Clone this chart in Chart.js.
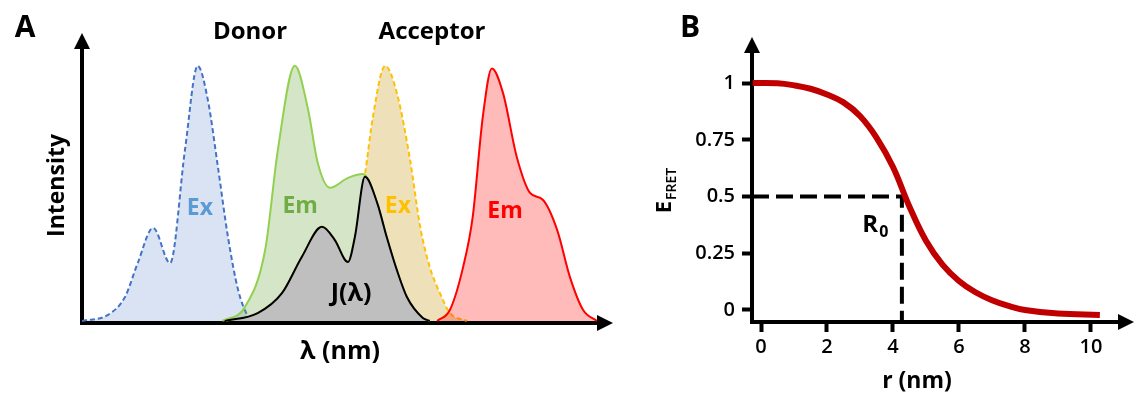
<!DOCTYPE html>
<html>
<head>
<meta charset="utf-8">
<script src="https://cdn.jsdelivr.net/npm/chart.js@4.4.1/dist/chart.umd.min.js"></script>
<style>
    body { margin: 0; background: #fff; width: 1134px; height: 394px; overflow: hidden; position: relative; }
    .panel { position: absolute; top: 0; height: 394px; }
    #panelA { left: 0; width: 630px; }
    #panelB { left: 640px; width: 494px; }
</style>
</head>
<body>
<div class="panel" id="panelA"><canvas id="spectraChart"></canvas></div>
<div class="panel" id="panelB"><canvas id="fretChart"></canvas></div>
<script>
// ---------- panel A: spectra (wavelength in arbitrary units, normalised intensity) ----------
const donorExX = [0, 4.9, 8.1, 10.5, 13.4, 16.6, 19.4, 21.8, 23.7, 25.6, 27.5, 29.4, 31.3, 32.0];
const donorExY = [0, 0.024, 0.094, 0.227, 0.365, 0.227, 0.671, 1.0, 0.867, 0.604, 0.329, 0.122, 0.016, 0];

const donorEmX = [26.4, 30.7, 34.5, 36.9, 40.1, 42.6, 44.4, 46.7, 50.1, 52.9, 55.6, 57.4, 59.3, 61.2, 64.2, 65.5];
const donorEmY = [0, 0.055, 0.278, 0.671, 1.0, 0.827, 0.620, 0.522, 0.561, 0.576, 0.463, 0.329, 0.2, 0.094, 0.012, 0];

const acceptorExX = [26.9, 33.1, 37.7, 41.4, 45.2, 47.6, 50.1, 51.4, 53.3, 54.8, 57.1, 59.3, 61.8, 63.7, 65.5, 67.4, 69.3, 72.5];
const acceptorExY = [0, 0.031, 0.11, 0.251, 0.369, 0.318, 0.231, 0.329, 0.573, 0.8, 1.0, 0.894, 0.631, 0.369, 0.212, 0.11, 0.031, 0];

const overlapX = [26.9, 33.1, 37.7, 41.4, 45.2, 47.6, 50.1, 51.4, 53.3, 55.6, 57.4, 59.3, 61.2, 64.2, 65.5];
const overlapY = [0, 0.031, 0.11, 0.251, 0.369, 0.318, 0.231, 0.329, 0.565, 0.463, 0.329, 0.2, 0.094, 0.012, 0];

const acceptorEmX = [66.9, 69.3, 71.8, 73.6, 75.5, 77.2, 79.3, 81.9, 84.4, 86.8, 89.5, 91.9, 94.4, 97.0];
const acceptorEmY = [0, 0.043, 0.212, 0.408, 0.8, 0.99, 0.894, 0.643, 0.502, 0.475, 0.357, 0.173, 0.043, 0];

// ---------- panel B: FRET efficiency vs distance ----------
const distance = [-0.25, 0.5, 1, 1.5, 2, 2.5, 3, 3.5, 4, 4.5, 5, 5.5, 6, 6.5, 7, 7.5, 8, 9, 10.27];
const efficiency = [1.0, 0.999, 0.99, 0.975, 0.95, 0.915, 0.855, 0.76, 0.63, 0.455, 0.305, 0.2, 0.128, 0.078, 0.043, 0.018, 0.0, -0.016, -0.022];
const r0 = 4.27;
const halfEfficiency = 0.5;
const rTicks = [0, 2, 4, 6, 8, 10];
const effTicks = [0, 0.25, 0.5, 0.75, 1];

const FONT = "'Open Sans', sans-serif";
const toPoints = (xs, ys) => xs.map((x, i) => ({ x: x, y: ys[i] }));

// arrow heads at the end of both axes
const axisArrows = {
    id: 'axisArrows',
    afterDraw(chart) {
        const { ctx, chartArea: a } = chart;
        ctx.save();
        ctx.fillStyle = '#000';
        ctx.beginPath();
        ctx.moveTo(a.left, a.top - 15);
        ctx.lineTo(a.left - 8, a.top + 1);
        ctx.lineTo(a.left + 8, a.top + 1);
        ctx.closePath();
        ctx.fill();
        ctx.beginPath();
        ctx.moveTo(a.right + 15, a.bottom);
        ctx.lineTo(a.right - 1, a.bottom - 8);
        ctx.lineTo(a.right - 1, a.bottom + 8);
        ctx.closePath();
        ctx.fill();
        ctx.restore();
    }
};

// free text labels; inside the plot they are placed by data value
const textLabels = {
    id: 'textLabels',
    afterDraw(chart, args, opts) {
        const ctx = chart.ctx;
        ctx.save();
        ctx.textAlign = 'center';
        ctx.textBaseline = 'middle';
        (opts.items || []).forEach(item => {
            let px = item.px, py = item.py;
            if (item.x !== undefined) {
                px = chart.scales.x.getPixelForValue(item.x);
                py = chart.scales.y.getPixelForValue(item.y);
            }
            ctx.fillStyle = item.color || '#000';
            ctx.save();
            ctx.translate(px, py);
            if (item.rotate) ctx.rotate(item.rotate);
            if (item.sub) {
                ctx.font = `bold ${item.size}px ${FONT}`;
                const w1 = ctx.measureText(item.text).width;
                ctx.font = `${item.subWeight || 'bold'} ${item.subSize}px ${FONT}`;
                const w2 = ctx.measureText(item.sub).width;
                const start = -(w1 + w2) / 2;
                ctx.textAlign = 'left';
                ctx.font = `bold ${item.size}px ${FONT}`;
                ctx.fillText(item.text, start, 0);
                ctx.font = `${item.subWeight || 'bold'} ${item.subSize}px ${FONT}`;
                ctx.fillText(item.sub, start + w1 + 1, item.size * 0.3);
            } else {
                ctx.font = `bold ${item.size}px ${FONT}`;
                ctx.fillText(item.text, 0, 0);
            }
            ctx.restore();
        });
        ctx.restore();
    }
};

function spectrum(points, line, fill, dashed, order) {
    return {
        data: points,
        showLine: true,
        borderColor: line,
        backgroundColor: fill,
        borderWidth: 2,
        borderDash: dashed ? [5, 3] : [],
        fill: 'origin',
        pointRadius: 0,
        cubicInterpolationMode: 'monotone',
        order: order
    };
}

// ------------------ CHART A ------------------
new Chart(document.getElementById('spectraChart'), {
    type: 'scatter',
    data: {
        datasets: [
            spectrum(toPoints(donorExX, donorExY), '#4472c4', 'rgba(68,114,196,0.2)', true, 5),
            spectrum(toPoints(donorEmX, donorEmY), '#92d050', 'rgba(112,173,71,0.3)', false, 4),
            spectrum(toPoints(acceptorExX, acceptorExY), '#ffc000', 'rgba(191,144,0,0.27)', true, 3),
            spectrum(toPoints(overlapX, overlapY), '#000000', '#bfbfbf', false, 2),
            spectrum(toPoints(acceptorEmX, acceptorEmY), '#ff0000', 'rgba(255,0,0,0.27)', false, 1)
        ]
    },
    options: {
        responsive: true,
        maintainAspectRatio: false,
        animation: false,
        events: [],
        layout: { padding: { top: 48, right: 32, left: 0, bottom: 0 } },
        scales: {
            x: {
                type: 'linear', min: 0, max: 97.2,
                grid: { display: false },
                border: { display: true, color: '#000', width: 4 },
                ticks: { display: false },
                title: { display: true, text: 'λ (nm)', color: '#000', font: { family: FONT, size: 25, weight: 'bold' }, padding: { bottom: 27 } },
                afterFit: s => { s.height = 71; }
            },
            y: {
                min: -0.008, max: 1.07,
                grid: { display: false },
                border: { display: true, color: '#000', width: 4 },
                ticks: { display: false },
                title: { display: true, text: 'Intensity', color: '#000', font: { family: FONT, size: 23, weight: 'bold' }, padding: { top: 44 } },
                afterFit: s => { s.width = 82; }
            }
        },
        plugins: {
            legend: { display: false },
            tooltip: { enabled: false },
            textLabels: {
                items: [
                    { text: 'A', px: 25, py: 28, size: 30 },
                    { text: 'Donor', px: 250, py: 32, size: 24 },
                    { text: 'Acceptor', px: 432, py: 32, size: 24 },
                    { text: 'Ex', x: 22.2, y: 0.44, size: 23, color: '#5b9bd5' },
                    { text: 'Em', x: 41.1, y: 0.447, size: 23, color: '#70ad47' },
                    { text: 'Ex', x: 59.5, y: 0.447, size: 23, color: '#ffc000' },
                    { text: 'Em', x: 79.7, y: 0.431, size: 23, color: '#ff0000' },
                    { text: 'J(λ)', x: 50.7, y: 0.106, size: 25, color: '#000' }
                ]
            }
        }
    },
    plugins: [axisArrows, textLabels]
});

// ------------------ CHART B ------------------
const rMin = -0.273, rMax = 10.85, eMin = -0.053, eMax = 1.137;

new Chart(document.getElementById('fretChart'), {
    type: 'scatter',
    data: {
        datasets: [
            {
                data: toPoints(distance, efficiency),
                showLine: true,
                borderColor: '#c00000',
                borderWidth: 6,
                pointRadius: 0,
                tension: 0.4,
                order: 1
            },
            {
                data: [{ x: rMin, y: halfEfficiency }, { x: r0, y: halfEfficiency }, { x: r0, y: eMin }],
                showLine: true,
                borderColor: '#000',
                borderWidth: 4,
                borderDash: [17, 7],
                pointRadius: 0,
                order: 2
            }
        ]
    },
    options: {
        responsive: true,
        maintainAspectRatio: false,
        animation: false,
        events: [],
        layout: { padding: { top: 52, right: 15, left: 0, bottom: 0 } },
        scales: {
            x: {
                type: 'linear', min: rMin, max: rMax,
                afterBuildTicks: s => { s.ticks = rTicks.map(v => ({ value: v })); },
                grid: { drawOnChartArea: false, drawTicks: true, tickLength: 10, tickWidth: 4, tickColor: '#000' },
                border: { display: true, color: '#000', width: 4 },
                ticks: { color: '#000', padding: 3, font: { family: FONT, size: 20, weight: '600' }, maxRotation: 0, callback: v => String(v) },
                afterFit: s => { s.height = 72; }
            },
            y: {
                min: eMin, max: eMax,
                afterBuildTicks: s => { s.ticks = effTicks.map(v => ({ value: v })); },
                grid: { drawOnChartArea: false, drawTicks: true, tickLength: 10, tickWidth: 4, tickColor: '#000' },
                border: { display: true, color: '#000', width: 4 },
                ticks: { color: '#000', padding: 7, font: { family: FONT, size: 20, weight: '600' }, callback: v => String(v) },
                afterFit: s => { s.width = 112; }
            }
        },
        plugins: {
            legend: { display: false },
            tooltip: { enabled: false },
            textLabels: {
                items: [
                    { text: 'B', px: 50, py: 28, size: 30 },
                    { text: 'E', sub: 'FRET', px: 25, py: 191, size: 22, subSize: 14, subWeight: '600', rotate: -Math.PI / 2 },
                    { text: 'R', sub: '0', x: 3.45, y: 0.375, size: 24, subSize: 16 },
                    { text: 'r (nm)', px: 277, py: 381, size: 23 }
                ]
            }
        }
    },
    plugins: [axisArrows, textLabels]
});
</script>
</body>
</html>
